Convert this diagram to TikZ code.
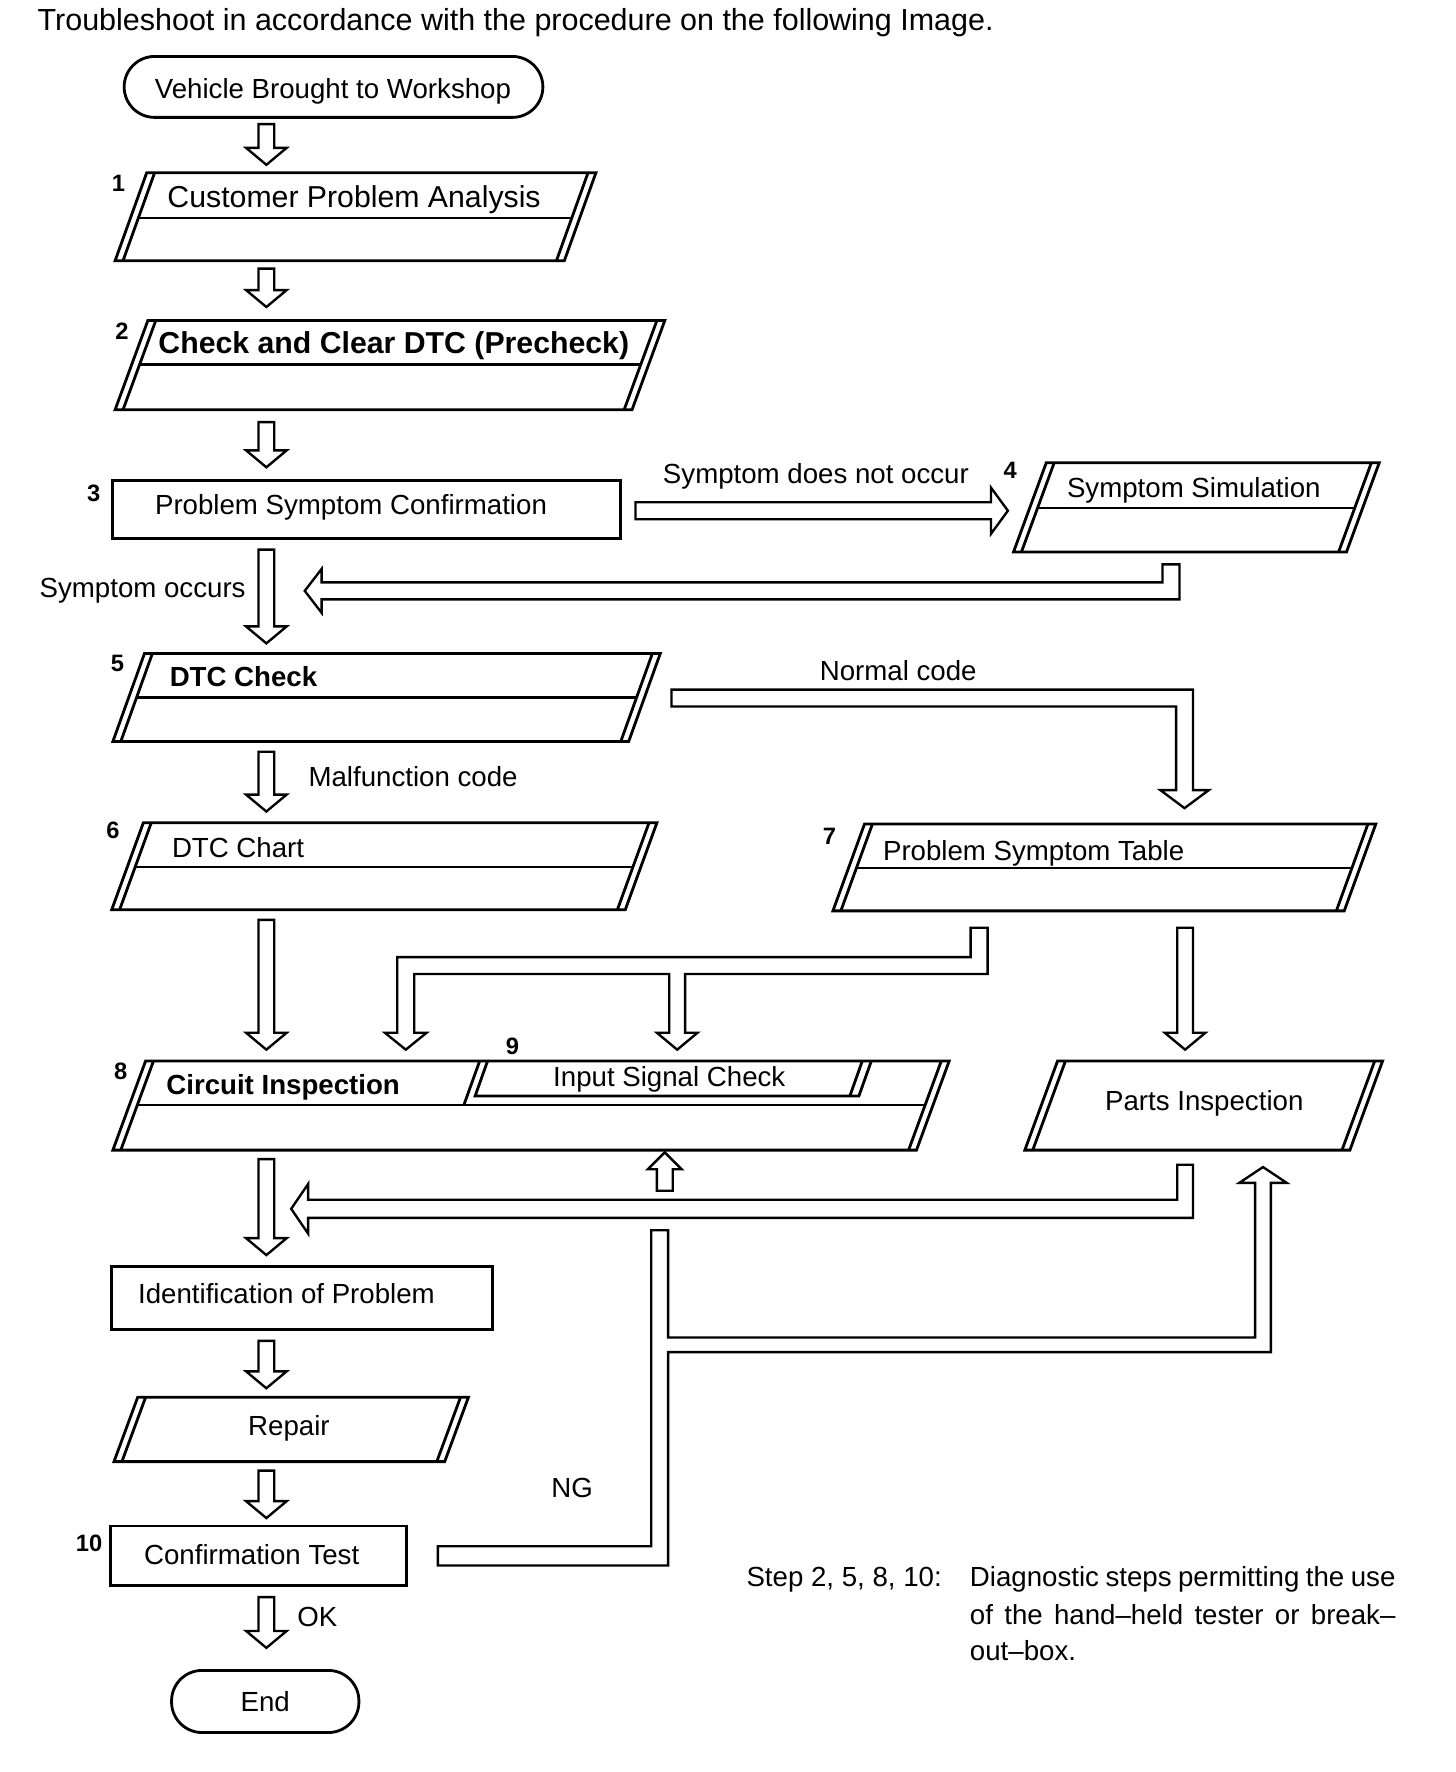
\documentclass[tikz,border=0pt]{standalone}
\usepackage{fontspec}
\setmainfont{Liberation Sans}
\newcommand\fbase{\fontsize{12.25pt}{14pt}\selectfont}
\newcommand\fbaseb{\fontsize{12.25pt}{14pt}\selectfont\bfseries}
\newcommand\fbig{\fontsize{13.4pt}{15pt}\selectfont}
\newcommand\fbigb{\fontsize{13.4pt}{15pt}\selectfont\bfseries}
\newcommand\fnum{\fontsize{10.5pt}{12pt}\selectfont\bfseries}
\newcommand\ftitle{\fontsize{13.5pt}{15pt}\selectfont}
% parallelogram with double slanted sides: a=bottom-left x, b=bottom-right x, t=top y, u=bottom y, s=slant
\newcommand\paral[5]{%
  \draw[boxline] (#1,#4) -- ({#1+#5},#3) -- ({#2+#5},#3) -- (#2,#4) -- cycle;
  \draw[boxline] ({#1+7},#4) -- ({#1+#5+7},#3);
  \draw[boxline] ({#2-7},#4) -- ({#2+#5-7},#3);}
% divider inside such a parallelogram at height d
\newcommand\pdiv[6]{%
  \draw[divline] ({#1+7+#5*(#4-#6)/(#4-#3)},#6) -- ({#2-7+#5*(#4-#6)/(#4-#3)},#6);}
% hollow down arrow: x, y of tail, y of tip
\newcommand\dnarrow[3]{%
  \draw[harrow] ({#1-7},#2) -- ({#1+7},#2) -- ({#1+7},{#3-15}) -- ({#1+18},{#3-15}) -- (#1,#3)
    -- ({#1-18},{#3-15}) -- ({#1-7},{#3-15}) -- cycle;}
\tikzset{
  boxline/.style={line width=1.25pt},
  divline/.style={line width=1.1pt},
  harrow/.style={line width=1.05pt},
  txt/.style={inner sep=0pt, font=\fbase},
  num/.style={inner sep=0pt, font=\fnum, anchor=base},
}
\begin{document}
\begin{tikzpicture}[x=0.5pt,y=-0.5pt,line join=miter]
\useasboundingbox[fill=white] (0,0) rectangle (1290,1570);

% ---------- title ----------
\node[txt,font=\ftitle,anchor=base west] (title) at (33,27) {Troubleshoot in accordance with the procedure on the following Image.};

% ---------- start ----------
\draw[boxline,rounded corners=13.5pt] (110,50) rectangle (481,104);
\node[txt,anchor=base] (start) at (295,87) {Vehicle Brought to Workshop};
\dnarrow{236}{110}{146}

% ---------- box 1 ----------
\paral{102}{500}{153}{231}{28}
\pdiv{102}{500}{153}{231}{28}{193}
\node[num] (n1) at (105,170) {1};
\node[txt,font=\fbig,anchor=base west] (t1) at (148,184) {Customer Problem Analysis};
\dnarrow{236}{238}{272}

% ---------- box 2 ----------
\paral{102}{560}{284}{363}{29}
\pdiv{102}{560}{284}{363}{29}{323}
\node[num] (n2) at (108,301) {2};
\node[txt,font=\fbigb,anchor=base west] (t2) at (140,313) {Check and Clear DTC (Precheck)};
\dnarrow{236}{374}{414}

% ---------- box 3 ----------
\draw[boxline] (100,426) rectangle (550,477);
\node[num] (n3) at (83,444) {3};
\node[txt,anchor=base] (t3) at (311,456) {Problem Symptom Confirmation};

% arrow 3 -> 4
\draw[harrow] (563,445) -- (878,445) -- (878,432) -- (893,452.5) -- (878,473) -- (878,460) -- (563,460) -- cycle;
\node[txt,anchor=base west] (l34) at (587,428) {Symptom does not occur};

% ---------- box 4 ----------
\paral{898}{1193}{410}{489}{29}
\pdiv{898}{1193}{410}{489}{29}{450}
\node[num] (n4) at (895,424) {4};
\node[txt,anchor=base west] (t4) at (945,441) {Symptom Simulation};

% return arrow 4 -> main line
\draw[harrow] (1030,500) -- (1045,500) -- (1045,531) -- (285,531) -- (285,543) -- (270,523.5)
  -- (285,504) -- (285,516) -- (1030,516) -- cycle;

% symptom occurs arrow
\dnarrow{236}{487}{570}
\node[txt,anchor=base east] (locc) at (218,529) {Symptom occurs};

% ---------- box 5 ----------
\paral{100}{557}{579}{657}{28}
\pdiv{100}{557}{579}{657}{28}{618}
\node[num] (n5) at (104,595) {5};
\node[txt,font=\fbaseb,anchor=base west] (t5) at (150,608) {DTC Check};

% normal code arrow
\draw[harrow] (595,611) -- (1057,611) -- (1057,700) -- (1071,700) -- (1049.5,716) -- (1028,700)
  -- (1042,700) -- (1042,626) -- (595,626) -- cycle;
\node[txt,anchor=base west] (lnorm) at (726,603) {Normal code};

% malfunction code arrow
\dnarrow{236}{666}{719}
\node[txt,anchor=base west] (lmal) at (273,697) {Malfunction code};

% ---------- box 6 ----------
\paral{99}{554}{729}{806}{28}
\pdiv{99}{554}{729}{806}{28}{768}
\node[num] (n6) at (100,743) {6};
\node[txt,anchor=base west] (t6) at (152,760) {DTC Chart};

% ---------- box 7 ----------
\paral{738}{1191}{730}{807}{28}
\pdiv{738}{1191}{730}{807}{28}{769}
\node[num] (n7) at (735,748) {7};
\node[txt,anchor=base west] (t7) at (782,762) {Problem Symptom Table};

% arrow 6 -> 8
\dnarrow{236}{815}{930}

% split arrow 7 -> 8 / 9
\draw[harrow] (860,822) -- (875,822) -- (875,863) -- (607,863) -- (607,915) -- (618,915) -- (600,930)
  -- (582,915) -- (593,915) -- (593,863) -- (367,863) -- (367,915) -- (378,915) -- (359.5,930)
  -- (341,915) -- (352,915) -- (352,848) -- (860,848) -- cycle;

% arrow 7 -> parts
\dnarrow{1050}{822}{930}

% ---------- box 8 with box 9 ----------
\paral{100}{812}{940}{1019}{29}
\pdiv{100}{812}{940}{1019}{29}{979}
\draw[boxline] (425,940) -- (411,979);
\draw[boxline] (432,940) -- (421,971) -- (761,971) -- (772,940);
\draw[boxline] (764,940) -- (753,971);
\node[num] (n8) at (107,956) {8};
\node[txt,font=\fbaseb,anchor=base west] (t8) at (147,970) {Circuit Inspection};
\node[num] (n9) at (454,934) {9};
\node[txt,anchor=base] (t9) at (593,963) {Input Signal Check};

% ---------- parts inspection ----------
\paral{908}{1196}{940}{1019}{29}
\node[txt,anchor=base] (tp) at (1067,984) {Parts Inspection};

% up arrow into box 8
\draw[harrow] (582,1055) -- (596,1055) -- (596,1036) -- (604,1036) -- (589,1021) -- (574,1036)
  -- (582,1036) -- cycle;

% return from parts inspection
\draw[harrow] (1043,1032) -- (1057,1032) -- (1057,1079) -- (273,1079) -- (273,1093) -- (258,1071)
  -- (273,1049) -- (273,1063) -- (1043,1063) -- cycle;

% arrow 8 -> identification
\dnarrow{236}{1027}{1112}

% ---------- identification ----------
\draw[boxline] (99,1122) rectangle (436,1178);
\node[txt,anchor=base west] (tid) at (122,1155) {Identification of Problem};
\dnarrow{236}{1188}{1230}

% ---------- repair ----------
\paral{101}{394}{1238}{1295}{21}
\node[txt,anchor=base] (trep) at (256,1272) {Repair};
\dnarrow{236}{1303}{1345}

% ---------- confirmation test ----------
\draw[boxline] (98,1352) rectangle (360,1405);
\node[num] (n10) at (79,1375) {10};
\node[txt,anchor=base] (t10) at (223,1386) {Confirmation Test};

% NG loop
\draw[harrow] (577,1090) -- (592,1090) -- (592,1185) -- (1112,1185) -- (1112,1048) -- (1098,1048)
  -- (1119,1034) -- (1140,1048) -- (1126,1048) -- (1126,1198) -- (592,1198) -- (592,1387)
  -- (388,1387) -- (388,1370) -- (577,1370) -- cycle;
\node[txt,anchor=base] (lng) at (507,1327) {NG};

% OK arrow and end
\dnarrow{236}{1415}{1460}
\node[txt,anchor=base west] (lok) at (263,1441) {OK};
\draw[boxline,rounded corners=13.5pt] (152,1480) rectangle (318,1535);
\node[txt,anchor=base] (tend) at (235,1516) {End};

% ---------- note ----------
\node[txt,anchor=base west] (step) at (661,1406) {Step 2, 5, 8, 10:};
\node[txt,anchor=base west] (nt1) at (859,1406) {\makebox[188.5pt][s]{Diagnostic steps permitting the use}};
\node[txt,anchor=base west] (nt2) at (859,1439) {\makebox[188.5pt][s]{of the hand–held tester or break–}};
\node[txt,anchor=base west] (nt3) at (859,1471) {out–box.};
\end{tikzpicture}
\end{document}
